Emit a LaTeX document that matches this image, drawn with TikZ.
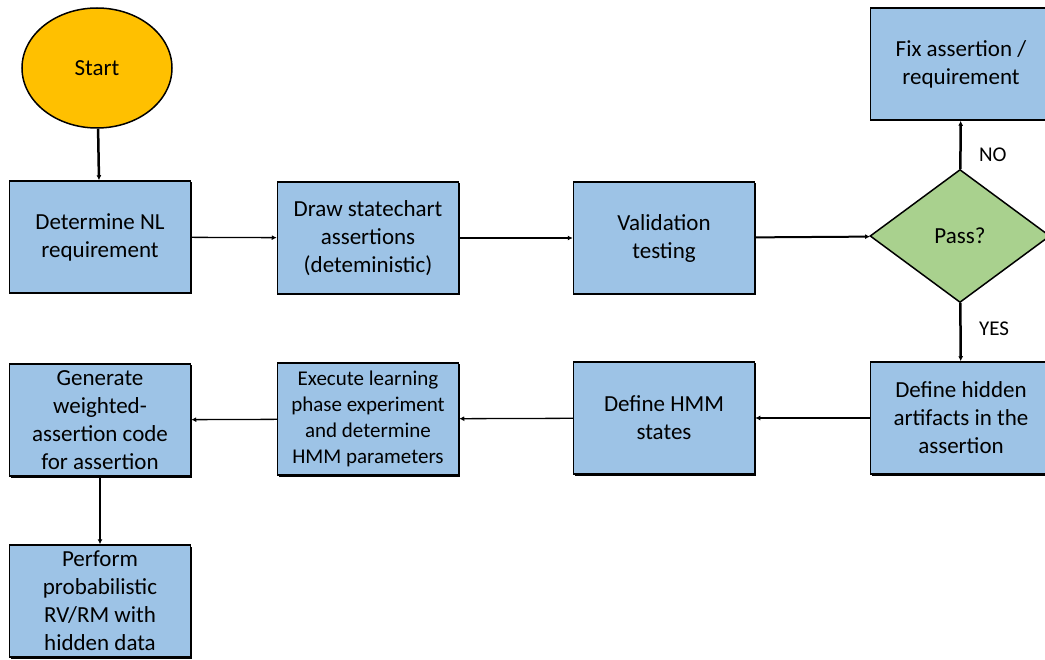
\documentclass[tikz,border=0pt]{standalone}
\usepackage{fontspec}
\setmainfont{Carlito}
\usetikzlibrary{arrows.meta}
\usetikzlibrary{shapes.geometric}
\usetikzlibrary{shadows}
\definecolor{boxblue}{HTML}{9DC3E6}
\definecolor{startgold}{HTML}{FFC000}
\definecolor{passgreen}{HTML}{A9D18E}
\tikzset{stepbox/.style = {draw, fill=boxblue, line width=1.5pt, minimum width=181pt, minimum height=112pt, inner sep=1pt, align=center, font=\fontsize{23}{28}\selectfont, drop shadow={shadow xshift=1.5pt, shadow yshift=-1.5pt, fill=black, opacity=1}}}
\tikzset{flow/.style = {-{Latex[length=5pt, width=5pt]}, line width=1.3pt}}

\begin{document}
\begin{tikzpicture}[x=1pt, y=-1pt]
    \useasboundingbox (0, 0) rectangle (1045, 660);
    \clip (0, 0) rectangle (1045, 660);
    \node [ellipse, draw, fill=startgold, line width=1.5pt, minimum width=150pt, minimum height=120pt, font=\fontsize{23}{28}\selectfont] (start) at (97, 68) {Start};
    \node [stepbox] (nl) at (100, 237) {Determine NL\\requirement};
    \node [stepbox] (chart) at (368, 238) {Draw statechart\\assertions\\(deteministic)};
    \node [stepbox] (valid) at (664, 238) {Validation\\testing};
    \node [diamond, draw, fill=passgreen, line width=1.5pt, minimum width=180pt, minimum height=133pt, inner sep=0, font=\fontsize{23}{28}\selectfont] (pass) at (960, 236) {Pass?};
    \node [stepbox] (fix) at (961, 64) {Fix assertion /\\requirement};
    \node [stepbox] (hidden) at (961, 418) {Define hidden\\artifacts in the\\assertion};
    \node [stepbox] (states) at (664, 418) {Define HMM\\states};
    \node [stepbox, font=\fontsize{21}{26}\selectfont] (learn) at (368, 419) {Execute learning\\phase experiment\\and determine\\HMM parameters};
    \node [stepbox] (gen) at (100, 420) {Generate\\weighted-\\assertion code\\for assertion};
    \node [stepbox] (rv) at (100, 601) {Perform\\probabilistic\\RV/RM with\\hidden data};
    \draw [flow, line width=2.5pt] (start) -- (nl);
    \draw [flow] (nl) -- (chart);
    \draw [flow] (chart) -- (valid);
    \draw [flow, line width=2pt] (valid) -- (pass);
    \draw [flow, line width=2.5pt] (pass) -- node [right=14pt, pos=0.3, font=\fontsize{21}{26}\selectfont] {NO} (fix);
    \draw [flow, line width=2.5pt] (pass) -- node [right=14pt, pos=0.45, font=\fontsize{21}{26}\selectfont] {YES} (hidden);
    \draw [flow] (hidden) -- (states);
    \draw [flow] (states) -- (learn);
    \draw [flow] (learn) -- (gen);
    \draw [flow, line width=2pt] (gen) -- (rv);
  \end{tikzpicture}
\end{document}
